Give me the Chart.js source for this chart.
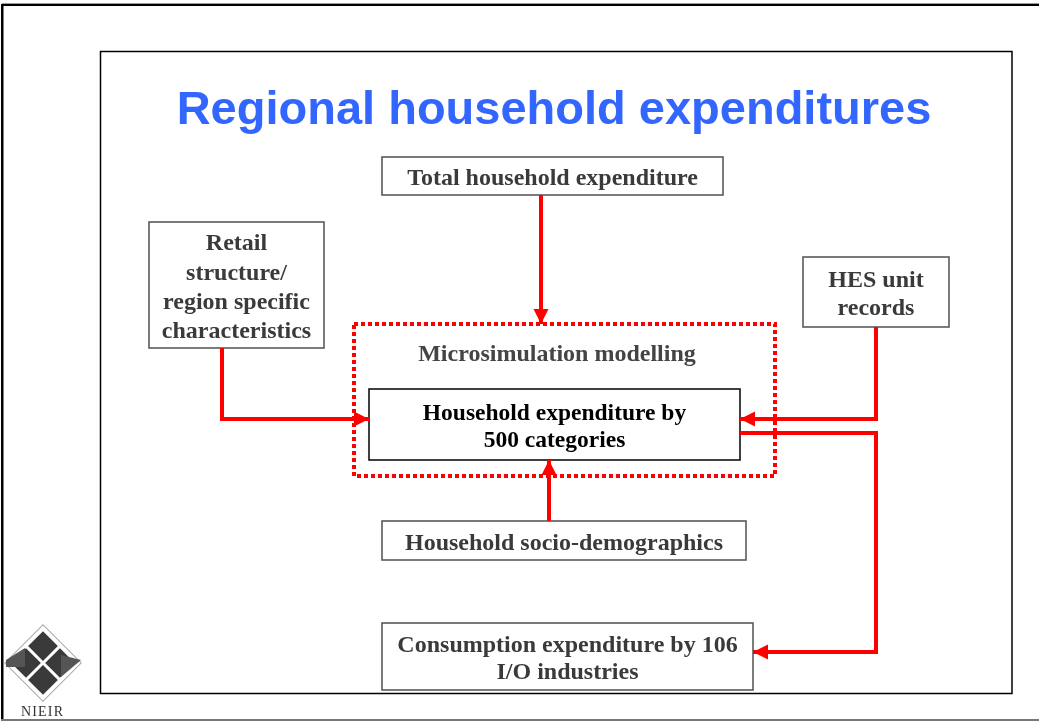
<!DOCTYPE html>
<html><head><meta charset="utf-8">
<script src="https://cdn.jsdelivr.net/npm/chart.js@4/dist/chart.umd.min.js"></script>
<style>html,body{margin:0;padding:0;background:#fff;overflow:hidden}canvas{display:block}</style>
</head><body><canvas id="c" width="1039" height="722"></canvas>
<script>
// ---- content ----
const titleText = 'Regional household expenditures';
const nodeNames = ['total', 'retail', 'hes', 'main', 'socio', 'consumption'];
const nodeLines = [
  ['Total household expenditure'],
  ['Retail', 'structure/', 'region specific', 'characteristics'],
  ['HES unit', 'records'],
  ['Household expenditure by', '500 categories'],
  ['Household socio-demographics'],
  ['Consumption expenditure by 106', 'I/O industries']
];
// node extents in diagram units [left, top, right, bottom]
const nodeLeft   = [382, 149, 803, 369, 382, 382];
const nodeTop    = [157, 222, 257, 389, 521, 623];
const nodeRight  = [723, 324, 949, 740, 746, 753];
const nodeBottom = [195, 348, 327, 460, 560, 690];
const groupLabel = 'Microsimulation modelling';
const groupX = [354, 775, 775, 354, 354];
const groupY = [324, 324, 476, 476, 324];
// connector paths (last point = arrow tip)
const flowX = [
  [541, 541],
  [222, 222, 369],
  [876, 876, 740],
  [740, 876, 876, 753],
  [549, 549]
];
const flowY = [
  [195, 324],
  [348, 419, 419],
  [327, 419, 419],
  [433, 433, 652, 652],
  [521, 460]
];
const logoText = 'NIEIR';

// ---- drawing ----
const RED = '#ff0000';
const datasets = [];
flowX.forEach((xs, i) => {
  datasets.push({
    data: xs.map((x, j) => ({x, y: flowY[i][j]})),
    showLine: true, borderColor: RED, borderWidth: 4, pointRadius: 0,
    borderJoinStyle: 'miter', borderCapStyle: 'butt', tension: 0, arrow: true
  });
});
datasets.push({
  data: groupX.map((x, j) => ({x, y: groupY[j]})),
  showLine: true, borderColor: RED, borderWidth: 4, borderDash: [4, 3],
  pointRadius: 0, tension: 0, borderCapStyle: 'butt', borderJoinStyle: 'miter'
});

const SERIF = '"Liberation Serif", "Times New Roman", serif';
const diagramPlugin = {
  id: 'diagram',
  beforeDatasetsDraw(chart) {
    const {ctx, scales: {x: sx, y: sy}} = chart;
    const X = v => sx.getPixelForValue(v), Y = v => sy.getPixelForValue(v);
    ctx.save();
    // slide frame
    ctx.fillStyle = '#9a9a9a';
    ctx.fillRect(X(2), Y(3), X(1039) - X(2), 1);
    ctx.fillStyle = '#000';
    ctx.fillRect(X(2), Y(4), X(1039) - X(2), 2);
    ctx.fillRect(X(1), Y(4), 2.5, Y(720) - Y(4));
    ctx.fillStyle = '#777';
    ctx.fillRect(X(1), Y(719), X(1039) - X(1), 2);
    // inner panel
    ctx.strokeStyle = '#000'; ctx.lineWidth = 1.5;
    ctx.strokeRect(X(100.5), Y(51.5), X(1012) - X(100.5), Y(693.5) - Y(51.5));
    // title
    ctx.fillStyle = '#3366ff';
    ctx.font = 'bold 47px "Liberation Sans", Arial, sans-serif';
    ctx.textAlign = 'center'; ctx.textBaseline = 'middle';
    ctx.fillText(titleText, X(554), Y(111));
    // boxes
    nodeNames.forEach((n, i) => {
      const isMain = n === 'main';
      ctx.strokeStyle = isMain ? '#111' : '#5a5a5a';
      ctx.lineWidth = 1.6;
      ctx.strokeRect(X(nodeLeft[i]), Y(nodeTop[i]), X(nodeRight[i]) - X(nodeLeft[i]), Y(nodeBottom[i]) - Y(nodeTop[i]));
      ctx.fillStyle = isMain ? '#000' : '#3a3a3a';
      ctx.font = 'bold ' + (isMain ? 23.5 : 24) + 'px ' + SERIF;
      const lines = nodeLines[i];
      const lh = lines.length === 4 ? 29.3 : 27.5;
      const cx = (nodeLeft[i] + nodeRight[i]) / 2;
      const cy = (nodeTop[i] + nodeBottom[i]) / 2 + 3;
      lines.forEach((t, k) => {
        ctx.fillText(t, X(cx), Y(cy + (k - (lines.length - 1) / 2) * lh));
      });
    });
    // group label
    ctx.fillStyle = '#444';
    ctx.font = 'bold 24px ' + SERIF;
    ctx.fillText(groupLabel, X(557), Y(355));
    // logo
    const lx = X(43), ly = Y(663);
    ctx.translate(lx, ly);
    ctx.rotate(Math.PI / 4);
    ctx.strokeStyle = '#aaa'; ctx.lineWidth = 1;
    ctx.strokeRect(-27, -27, 54, 54);
    ctx.fillStyle = '#3a3a3a';
    const s = 21, g = 1.5;
    ctx.fillRect(-s - g, -s - g, s, s);
    ctx.fillRect(g, -s - g, s, s);
    ctx.fillRect(-s - g, g, s, s);
    ctx.fillRect(g, g, s, s);
    ctx.setTransform(1, 0, 0, 1, 0, 0);
    ctx.fillStyle = '#555';
    ctx.beginPath();
    ctx.moveTo(lx - 37, ly - 3); ctx.lineTo(lx - 37, ly + 4); ctx.lineTo(lx - 18, ly + 4); ctx.lineTo(lx - 18, ly - 15); ctx.closePath(); ctx.fill();
    ctx.beginPath();
    ctx.moveTo(lx + 38, ly - 3); ctx.lineTo(lx + 18, ly - 8); ctx.lineTo(lx + 18, ly + 14); ctx.closePath(); ctx.fill();
    ctx.fillStyle = '#333';
    ctx.font = '14px ' + SERIF;
    ctx.textAlign = 'center';
    ctx.fillText(logoText.split('').join(String.fromCharCode(8202)), X(42), Y(712));
    ctx.restore();
  },
  afterDatasetsDraw(chart) {
    const {ctx, scales: {x: sx, y: sy}} = chart;
    ctx.save();
    ctx.fillStyle = RED;
    chart.data.datasets.forEach(ds => {
      if (!ds.arrow) return;
      const p = ds.data;
      const a = p[p.length - 2], b = p[p.length - 1];
      const x1 = sx.getPixelForValue(a.x), y1 = sy.getPixelForValue(a.y);
      const x2 = sx.getPixelForValue(b.x), y2 = sy.getPixelForValue(b.y);
      const ang = Math.atan2(y2 - y1, x2 - x1);
      const L = 15, W = 7.5;
      ctx.save();
      ctx.translate(x2, y2); ctx.rotate(ang);
      ctx.beginPath();
      ctx.moveTo(0, 0); ctx.lineTo(-L, -W); ctx.lineTo(-L, W); ctx.closePath();
      ctx.fill();
      ctx.restore();
    });
    ctx.restore();
  }
};

new Chart(document.getElementById('c'), {
  type: 'scatter',
  data: {datasets},
  options: {
    responsive: false, animation: false, devicePixelRatio: 1,
    layout: {padding: 0},
    plugins: {legend: {display: false}, tooltip: {enabled: false}},
    events: [],
    scales: {
      x: {type: 'linear', min: 0, max: 1039, display: false},
      y: {type: 'linear', min: 0, max: 722, reverse: true, display: false}
    }
  },
  plugins: [diagramPlugin]
});
</script></body></html>
